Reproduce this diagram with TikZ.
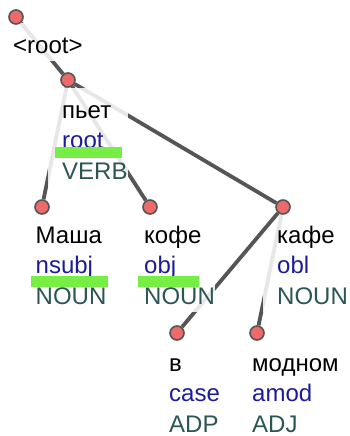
\documentclass[tikz,border=0pt]{standalone}
\usepackage{fontspec}
\setmainfont{Liberation Sans}
\usetikzlibrary{backgrounds}

\definecolor{edgegray}{HTML}{555555}
\definecolor{dotred}{HTML}{EE6A6A}
\definecolor{relblue}{HTML}{1C1C99}
\definecolor{posteal}{HTML}{2C5656}
\definecolor{markgreen}{HTML}{77EE44}

\newcommand{\lstrut}{\rule[-8pt]{0pt}{30.5pt}}
\newcommand{\tokentext}[3]{\lstrut #1\\\lstrut{\color{relblue}#2}\\\lstrut{\color{posteal}#3}}

\begin{document}
\begin{tikzpicture}[x=1pt, y=-1pt,
    tokdot/.style={circle, draw=edgegray, fill=dotred, line width=1.6pt, minimum size=14pt, inner sep=0pt},
    toklabel/.style={anchor=north west, inner sep=0pt, align=left, font=\fontsize{24}{30.5}\selectfont},
    dep/.style={draw=edgegray, line width=3.8pt},
    halo/.style={fill=white, fill opacity=0.86},
    hilite/.style={fill=markgreen}]

    \useasboundingbox (0,0) rectangle (349,436);

    % token dots
    \node[tokdot] (rootdot) at (16,17) {};
    \node[tokdot] (pyetdot) at (68,80) {};
    \node[tokdot] (mashadot) at (42,207) {};
    \node[tokdot] (kofedot) at (150,207) {};
    \node[tokdot] (kafedot) at (283,207) {};
    \node[tokdot] (vdot) at (177,333) {};
    \node[tokdot] (modnomdot) at (257,333) {};

    % token labels: word, relation, POS
    \node[toklabel] (root) at (13,30.5) {\lstrut<root>};
    \node[toklabel] (pyet) at (62,95.5) {\tokentext{пьет}{root}{VERB}};
    \node[toklabel] (masha) at (35.5,220.5) {\tokentext{Маша}{nsubj}{NOUN}};
    \node[toklabel] (kofe) at (144,220.5) {\tokentext{кофе}{obj}{NOUN}};
    \node[toklabel] (kafe) at (277,220.5) {\tokentext{кафе}{obl}{NOUN}};
    \node[toklabel] (v) at (169,348.5) {\tokentext{в}{case}{ADP}};
    \node[toklabel] (modnom) at (252,348.5) {\tokentext{модном}{amod}{ADJ}};

    % highlighted relations
    \fill[hilite] (55,147) rectangle (122,158);
    \fill[hilite] (31,276) rectangle (108,287);
    \fill[hilite] (138,276) rectangle (199,287);

    \begin{scope}[on background layer]
    \fill[white] (0,0) rectangle (349,436);
    \draw[dep] (rootdot) -- (pyetdot);
    \draw[dep] (pyetdot) -- (mashadot);
    \draw[dep] (pyetdot) -- (kofedot);
    \draw[dep] (pyetdot) -- (kafedot);
    \draw[dep] (kafedot) -- (modnomdot);
    \foreach \tk in {root,pyet,kafe,modnom,masha}
        \fill[halo] ([xshift=-14pt,yshift=7.5pt]\tk.north west) rectangle (\tk.south east);
    \draw[dep] (kafedot) -- (vdot);
    \foreach \tk in {kofe,v}
        \fill[halo] ([xshift=-14pt,yshift=7.5pt]\tk.north west) rectangle (\tk.south east);
    \end{scope}
\end{tikzpicture}
\end{document}
